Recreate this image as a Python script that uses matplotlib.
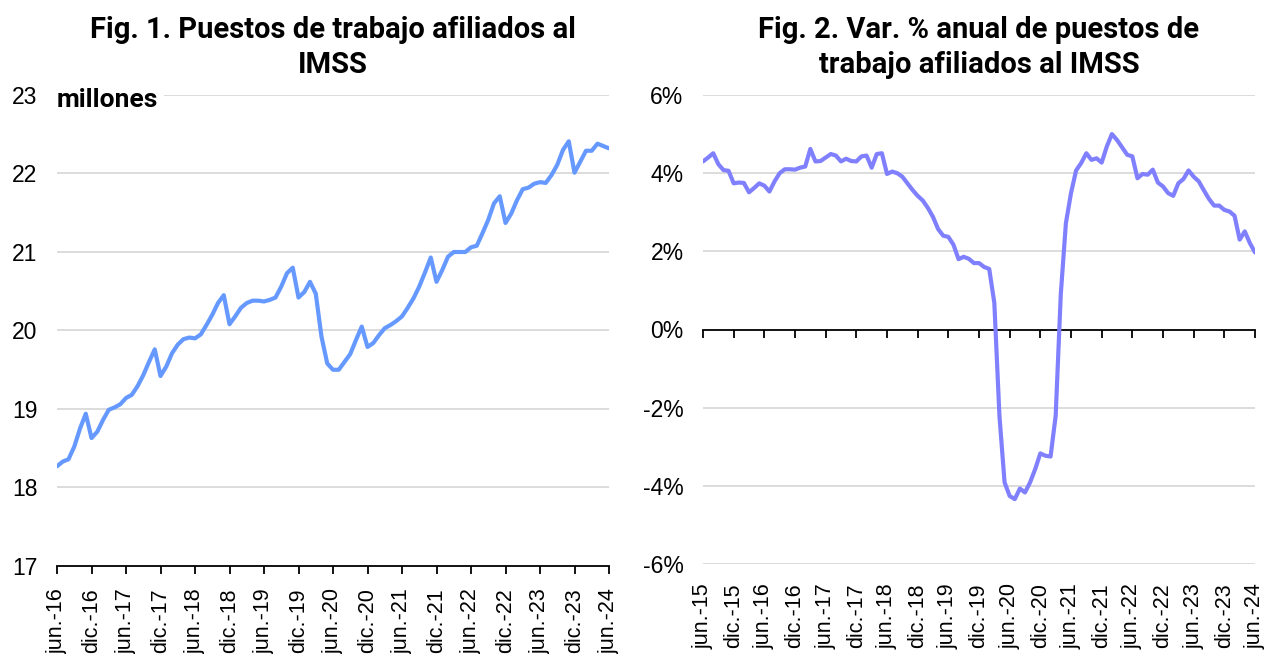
import matplotlib
matplotlib.use("Agg")
import matplotlib.pyplot as plt
import numpy as np

# ---------------- data ----------------
# Fig. 1: monthly affiliated jobs (millions), jun-2016 .. jun-2024
jobs_millions = [
    18.27, 18.33, 18.36, 18.52, 18.75, 18.94, 18.63,
    18.71, 18.86, 18.99, 19.02, 19.06, 19.14, 19.18, 19.29, 19.43, 19.60, 19.76, 19.42,
    19.54, 19.71, 19.82, 19.89, 19.91, 19.90, 19.95, 20.07, 20.20, 20.35, 20.45, 20.08,
    20.18, 20.29, 20.35, 20.38, 20.38, 20.37, 20.39, 20.42, 20.56, 20.73, 20.80, 20.42,
    20.49, 20.62, 20.47, 19.92, 19.58, 19.50, 19.50, 19.60, 19.70, 19.88, 20.05, 19.79,
    19.84, 19.94, 20.03, 20.07, 20.12, 20.18, 20.29, 20.41, 20.56, 20.74, 20.93, 20.62,
    20.77, 20.94, 21.00, 21.00, 21.00, 21.06, 21.08, 21.24, 21.41, 21.62, 21.71, 21.37,
    21.49, 21.66, 21.80, 21.82, 21.87, 21.89, 21.88, 21.98, 22.11, 22.30, 22.41, 22.01,
    22.15, 22.29, 22.29, 22.38, 22.35, 22.32,
]
jobs_tick_labels = ["jun.-16", "dic.-16", "jun.-17", "dic.-17", "jun.-18", "dic.-18",
                    "jun.-19", "dic.-19", "jun.-20", "dic.-20", "jun.-21", "dic.-21",
                    "jun.-22", "dic.-22", "jun.-23", "dic.-23", "jun.-24"]

# Fig. 2: annual % change, jun-2015 .. jun-2024
growth_pct = [
    4.30, 4.40, 4.51, 4.23, 4.08, 4.06, 3.74, 3.76, 3.75, 3.51, 3.62, 3.74,
    3.68, 3.53, 3.79, 4.00, 4.10, 4.10, 4.09, 4.14, 4.17, 4.62, 4.30, 4.31,
    4.40, 4.49, 4.45, 4.30, 4.37, 4.31, 4.30, 4.43, 4.45, 4.14, 4.49, 4.51,
    3.98, 4.04, 4.00, 3.91, 3.74, 3.57, 3.42, 3.30, 3.11, 2.88, 2.57, 2.40,
    2.37, 2.17, 1.80, 1.86, 1.81, 1.70, 1.70, 1.60, 1.55, 0.68, -2.21, -3.91,
    -4.26, -4.34, -4.07, -4.17, -3.91, -3.57, -3.17, -3.23, -3.25, -2.21, 0.90, 2.72,
    3.49, 4.07, 4.26, 4.51, 4.34, 4.38, 4.27, 4.68, 5.00, 4.85, 4.66, 4.47,
    4.43, 3.87, 3.98, 3.96, 4.09, 3.76, 3.66, 3.49, 3.42, 3.74, 3.85, 4.07,
    3.91, 3.79, 3.56, 3.34, 3.17, 3.17, 3.06, 3.02, 2.91, 2.30, 2.51, 2.21,
    1.97,
]
growth_tick_labels = ["jun.-15", "dic.-15", "jun.-16", "dic.-16", "jun.-17", "dic.-17",
                      "jun.-18", "dic.-18", "jun.-19", "dic.-19", "jun.-20", "dic.-20",
                      "jun.-21", "dic.-21", "jun.-22", "dic.-22", "jun.-23", "dic.-23",
                      "jun.-24"]

left_yticks = [17, 18, 19, 20, 21, 22, 23]
right_yticks = [-6, -4, -2, 0, 2, 4, 6]

# ---------------- style ----------------
TICK_FONT = "Liberation Sans"
TITLE_FONT = ["Roboto", "DejaVu Sans"]
GRID = "#d9d9d9"

fig = plt.figure(figsize=(12.71, 6.54), dpi=100)

# ---------------- Fig 1 ----------------
ax1 = fig.add_axes([57 / 1271, 1 - 566 / 654, 552 / 1271, 471 / 654])
x1 = np.arange(len(jobs_millions))
ax1.plot(x1, jobs_millions, color="#6699ff", lw=3.0, solid_capstyle="round",
         solid_joinstyle="round", zorder=3)
ax1.set_xlim(0, len(jobs_millions) - 1)
ax1.set_ylim(17, 23)
ax1.set_yticks(left_yticks)
ax1.set_yticklabels([str(v) for v in left_yticks], fontsize=16.5, family=TICK_FONT)
for v in left_yticks[1:]:
    ax1.axhline(v, color=GRID, lw=1.3, zorder=1)
ax1.tick_params(axis="y", length=0, pad=14)
for s in ["left", "right", "top"]:
    ax1.spines[s].set_visible(False)
ax1.spines["bottom"].set_linewidth(1.3)
ax1.spines["bottom"].set_color("black")
ax1.set_xticks(x1[::6])
ax1.set_xticklabels(jobs_tick_labels, rotation=90, fontsize=15.5, family=TICK_FONT,
                    va="top", ha="center")
ax1.tick_params(axis="x", direction="out", length=6, width=1.3, pad=10)
ax1.text(0.0, 0.99, "millones", transform=ax1.transAxes, ha="left", va="center",
         fontsize=19, fontweight="bold", family=TITLE_FONT, zorder=5,
         bbox=dict(facecolor="white", edgecolor="none", pad=4))
ax1.set_title("Fig. 1. Puestos de trabajo afiliados al\nIMSS", fontsize=21,
              fontweight="bold", family=TITLE_FONT, linespacing=1.3, pad=16)

# ---------------- Fig 2 ----------------
ax2 = fig.add_axes([703 / 1271, 1 - 564 / 654, 552 / 1271, 469 / 654])
x2 = np.arange(len(growth_pct))
ax2.plot(x2, growth_pct, color="#8080ff", lw=3.0, solid_capstyle="round",
         solid_joinstyle="round", zorder=3)
ax2.set_xlim(0, len(growth_pct) - 1)
ax2.set_ylim(-6, 6)
ax2.set_yticks(right_yticks)
ax2.set_yticklabels([f"{v}%" for v in right_yticks], fontsize=16.5, family=TICK_FONT)
for v in right_yticks:
    if v != 0:
        ax2.axhline(v, color=GRID, lw=1.3, zorder=1)
ax2.tick_params(axis="y", length=0, pad=14)
for s in ["left", "right", "top"]:
    ax2.spines[s].set_visible(False)
ax2.spines["bottom"].set_position(("data", 0))
ax2.spines["bottom"].set_linewidth(1.3)
ax2.spines["bottom"].set_color("black")
ax2.spines["bottom"].set_zorder(2)
ax2.set_xticks(x2[::6])
ax2.tick_params(axis="x", direction="out", length=6, width=1.3, labelbottom=False)

sec = ax2.secondary_xaxis("bottom")
sec.spines["bottom"].set_visible(False)
sec.set_xticks(x2[::6])
sec.set_xticklabels(growth_tick_labels, rotation=90, fontsize=15.5, family=TICK_FONT,
                    va="top", ha="center")
sec.tick_params(axis="x", length=0, pad=14)

ax2.set_title("Fig. 2. Var. % anual de puestos de\ntrabajo afiliados al IMSS", fontsize=21,
              fontweight="bold", family=TITLE_FONT, linespacing=1.3, pad=16)

fig.savefig("out.png", dpi=100)
